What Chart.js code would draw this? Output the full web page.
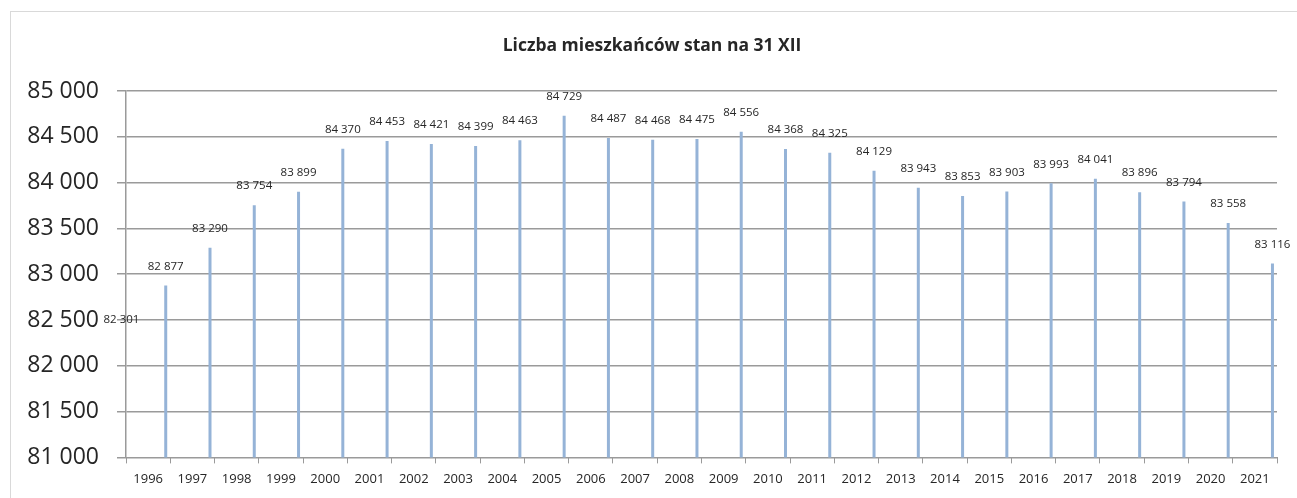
<!DOCTYPE html>
<html>
<head>
<meta charset="utf-8">
<script src="https://cdn.jsdelivr.net/npm/chart.js@4"></script>
<style>
  html, body { margin: 0; padding: 0; background: #fff; overflow: hidden; }
  #box { position: absolute; left: 10px; top: 11px; width: 1294px; height: 498px; border: 1px solid #d9d9d9; }
</style>
</head>
<body>
<div id="box"><canvas id="populationChart"></canvas></div>
<script>
// axis labels under the chart
const tickYears = ["1996", "1997", "1998", "1999", "2000", "2001", "2002", "2003", "2004", "2005", "2006", "2007", "2008",
  "2009", "2010", "2011", "2012", "2013", "2014", "2015", "2016", "2017", "2018", "2019", "2020", "2021"];

// bars sit on the tick marks, one more than the labels
const barYears = ["1995", "1996", "1997", "1998", "1999", "2000", "2001", "2002", "2003", "2004", "2005", "2006", "2007",
  "2008", "2009", "2010", "2011", "2012", "2013", "2014", "2015", "2016", "2017", "2018", "2019", "2020", "2021"];

const residents = [82301, 82877, 83290, 83754, 83899, 84370, 84453, 84421, 84399, 84463, 84729, 84487, 84468, 84475,
  84556, 84368, 84325, 84129, 83943, 83853, 83903, 83993, 84041, 83896, 83794, 83558, 83116];

const yMin = 81000;
const yMax = 85000;
const yStep = 500;

const gridColor = "#9a9a9a";
const textColor = "#262626";

const fmt = v => v.toString().replace(/\B(?=(\d{3})+(?!\d))/g, " ");

// values above the bars
const barValues = {
  id: "barValues",
  afterDatasetsDraw(chart) {
    const ctx = chart.ctx;
    const meta = chart.getDatasetMeta(0);
    ctx.save();
    ctx.font = "11.5px 'Open Sans'";
    ctx.fillStyle = textColor;
    ctx.textAlign = "center";
    ctx.textBaseline = "middle";
    meta.data.forEach((bar, i) => {
      ctx.fillText(fmt(residents[i]), bar.x, bar.y - 19);
    });
    ctx.restore();
  }
};

const ctx = document.getElementById("populationChart").getContext("2d");

new Chart(ctx, {
  type: "bar",
  data: {
    datasets: [
      {
        label: "Liczba mieszkańców",
        data: residents,
        xAxisID: "x2",
        backgroundColor: "#95b3d7",
        categoryPercentage: 0.41,
        barPercentage: 0.33,
        clip: 0
      },
      {
        // empty spacer so the bars sit a bit left of the ticks
        label: "",
        data: [],
        xAxisID: "x2",
        backgroundColor: "rgba(0,0,0,0)",
        categoryPercentage: 0.41,
        barPercentage: 0.33
      }
    ]
  },
  options: {
    responsive: true,
    maintainAspectRatio: false,
    animation: false,
    layout: { padding: { left: 16, right: 28, top: 0, bottom: 15 } },
    plugins: {
      legend: { display: false },
      tooltip: { enabled: false },
      title: {
        display: true,
        text: "Liczba mieszkańców stan na 31 XII",
        color: textColor,
        font: { family: "'Open Sans'", size: 17.5, weight: "bold" },
        padding: { top: 24, bottom: 34 }
      }
    },
    scales: {
      x: {
        type: "category",
        labels: tickYears,
        offset: true,
        grid: { offset: true, drawOnChartArea: false, tickLength: 6, color: gridColor, lineWidth: 1 },
        border: { color: gridColor, width: 1 },
        ticks: { font: { family: "'Open Sans'", size: 13 }, color: textColor, padding: 8, autoSkip: false, maxRotation: 0 }
      },
      x2: {
        type: "category",
        labels: barYears,
        offset: false,
        display: false
      },
      y: {
        min: yMin,
        max: yMax,
        beginAtZero: false,
        afterFit: scale => { scale.width = 99; },
        ticks: {
          stepSize: yStep,
          callback: v => fmt(v),
          font: { family: "'Open Sans'", size: 23 },
          color: textColor,
          padding: 18
        },
        grid: { color: gridColor, lineWidth: 1.5, tickLength: 9 },
        border: { color: gridColor, width: 1.5 }
      }
    }
  },
  plugins: [barValues]
});
</script>
</body>
</html>
